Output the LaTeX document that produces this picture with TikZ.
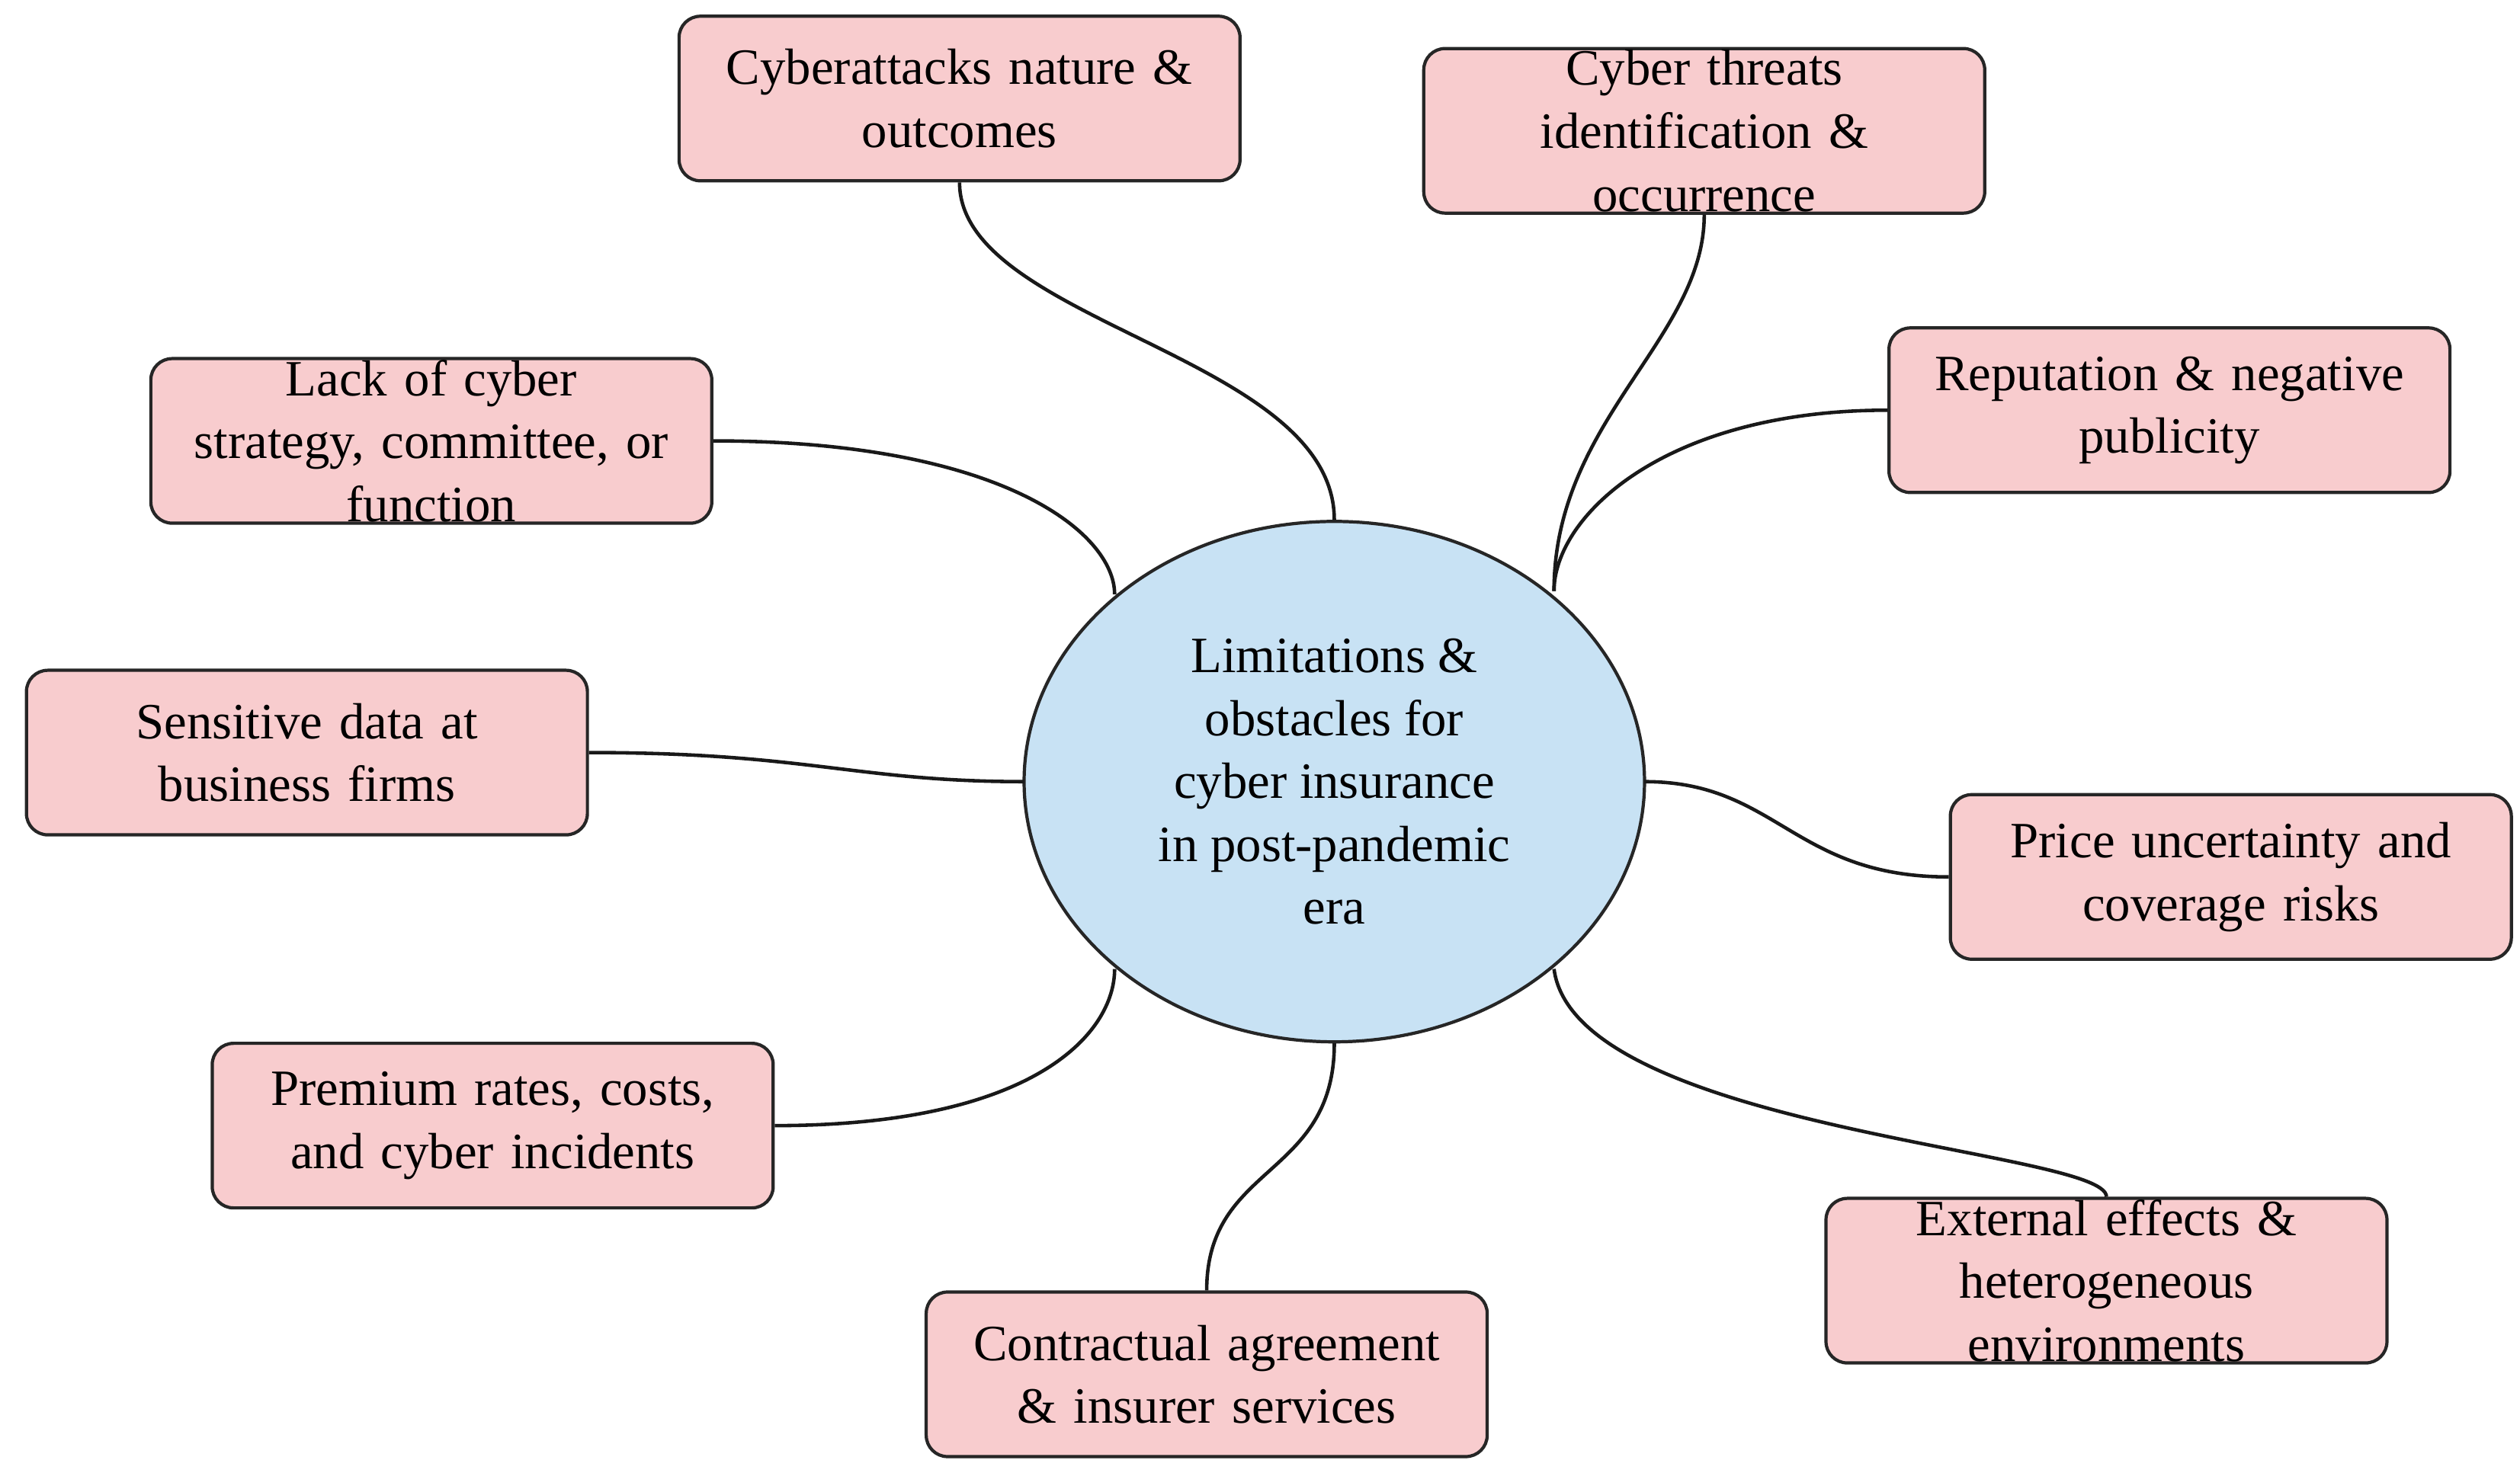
\documentclass[tikz,border=0pt]{standalone}
\usepackage{fontspec}
\setmainfont{Liberation Serif}
\usetikzlibrary{shapes.geometric}
\definecolor{boxfill}{RGB}{248,204,206}
\definecolor{ellfill}{RGB}{200,226,244}
\begin{document}
\begin{tikzpicture}[x=0.0212cm,y=-0.0212cm,
  box/.style={draw=black!85,line width=1.2pt,fill=boxfill,rounded corners=0.28cm,
    minimum width=7.36cm,minimum height=2.16cm,text width=6.9cm,align=center,
    font=\fontsize{19}{23.5}\selectfont,inner sep=0pt},
  link/.style={draw=black!90,line width=1.3pt}]
\useasboundingbox (0,0) rectangle (1560,912);
\node[draw=black!85,line width=1.2pt,fill=ellfill,ellipse,minimum width=8.14cm,minimum height=6.83cm,
  align=center,font=\fontsize{19}{23.5}\selectfont,inner sep=0pt] (e) at (826,484)
  {Limitations \&\\obstacles for\\cyber insurance\\in post-pandemic\\era};
\node[box] (b1) at (594,61) {Cyberattacks nature \&\\outcomes};
\node[box] (b2) at (1055,81) {Cyber threats\\identification \&\\occurrence};
\node[box] (b3) at (267,273) {Lack of cyber\\strategy, committee, or\\function};
\node[box] (b4) at (1343,254) {Reputation \& negative\\publicity};
\node[box] (b5) at (190,466) {Sensitive data at\\business firms};
\node[box] (b6) at (1381,543) {Price uncertainty and\\coverage risks};
\node[box] (b7) at (305,697) {Premium rates, costs,\\and cyber incidents};
\node[box] (b8) at (1304,793) {External effects \&\\heterogeneous\\environments};
\node[box] (b9) at (747,851) {Contractual agreement\\\& insurer services};
\coordinate (eTop) at (826,322);
\coordinate (eNE) at (962,366);
\coordinate (eNW) at (690,368);
\coordinate (eW) at (634,484);
\coordinate (eE) at (1018,484);
\coordinate (eSW) at (690,600);
\coordinate (eSE) at (962,600);
\coordinate (eBot) at (826,646);
\draw[link] (b1.south) .. controls (594,200) and (826,220) .. (eTop);
\draw[link] (b2.south) .. controls (1055,210) and (962,260) .. (eNE);
\draw[link] (b3.east) .. controls (620,273) and (690,330) .. (eNW);
\draw[link] (b4.west) .. controls (1030,254) and (962,320) .. (eNE);
\draw[link] (b5.east) .. controls (500,466) and (530,484) .. (eW);
\draw[link] (b6.west) .. controls (1110,543) and (1100,484) .. (eE);
\draw[link] (b7.east) .. controls (640,697) and (690,640) .. (eSW);
\draw[link] (b8.north) .. controls (1304,712) and (975,700) .. (eSE);
\draw[link] (b9.north) .. controls (747,720) and (826,730) .. (eBot);
\end{tikzpicture}
\end{document}
